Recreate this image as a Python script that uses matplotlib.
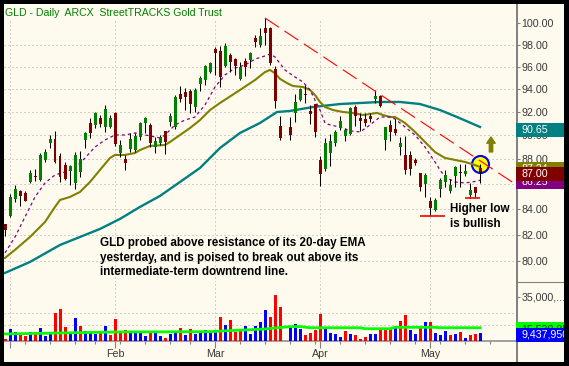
import numpy as np
import matplotlib
matplotlib.use("Agg")
import matplotlib.pyplot as plt
from matplotlib.patches import Rectangle
from matplotlib.lines import Line2D
from matplotlib.transforms import IdentityTransform

plt.rcParams['font.family'] = ['Liberation Sans', 'DejaVu Sans']

nan = float('nan')

# --- Daily bars: one slot per session, slot -1 = Dec 31 2007 ... slot 94 = May 15 2008
# slot 55 (Good Friday) is kept as an empty slot, like on the original chart
FIRST_SLOT = -1
opens = [82.80, 83.42, 84.83, 85.47, 85.30, 86.19, 86.62, 86.35, 87.98, 89.39,
         89.72, 88.31, 87.57, 87.08, 86.11, 87.00, 89.64, 91.07, 90.90, 91.49,
         90.73, 90.73, 91.92, 88.55, 88.06, 88.90, 88.80, 89.89, 91.07, 90.90,
         89.05, 89.39, 90.39, 91.15, 90.73, 93.57, 93.75, 93.83, 92.44, 94.45,
         94.80, 95.51, 97.59, 97.41, 96.05, 97.05, 96.68, 94.89, 96.50, 96.59,
         98.61, 97.96, 99.53, 99.53, 95.78, 90.81, nan, 90.73, 91.92, 93.04,
         93.50, 92.10, 92.70, 87.98, 87.24, 88.55, 89.39, 90.64, 89.97, 90.14,
         92.44, 91.49, 91.40, 91.66, 93.13, 93.40, 89.64, 90.90, 90.56, 89.05,
         88.39, 88.39, 87.98, 86.91, 86.03, 84.60, 83.89, 85.63, 86.19, 85.40,
         86.67, 86.90, 86.83, 85.15, 85.78, 87.32]
highs = [82.85, 85.20, 85.94, 85.55, 85.40, 87.16, 87.20, 88.55, 88.90, 90.06,
         90.39, 88.55, 87.81, 87.57, 88.64, 88.72, 90.31, 91.49, 92.00, 91.75,
         92.60, 91.75, 92.00, 89.64, 88.39, 90.22, 90.22, 91.15, 91.58, 91.07,
         89.89, 90.06, 90.39, 91.92, 93.48, 94.27, 94.10, 94.01, 94.10, 95.16,
         96.14, 96.41, 97.78, 97.87, 98.15, 97.23, 96.77, 96.41, 96.77, 97.32,
         98.90, 99.53, 100.47, 99.60, 96.05, 91.66, nan, 91.58, 93.60, 94.10,
         94.36, 92.60, 92.70, 88.31, 89.80, 90.14, 90.48, 91.66, 90.64, 92.44,
         92.60, 91.92, 91.92, 91.92, 93.92, 93.48, 90.73, 91.30, 91.40, 89.89,
         89.97, 88.72, 88.14, 86.91, 86.91, 84.99, 84.90, 86.51, 87.16, 86.43,
         87.49, 87.65, 87.65, 86.11, 85.78, 87.65]
lows = [81.88, 83.40, 84.52, 84.28, 84.60, 86.11, 86.20, 86.27, 87.80, 88.97,
        87.73, 86.19, 86.35, 85.94, 85.63, 86.59, 88.97, 89.80, 90.64, 90.73,
        90.31, 90.64, 89.10, 88.22, 87.16, 88.64, 88.64, 89.64, 90.22, 89.05,
        88.55, 89.22, 88.47, 90.81, 90.56, 92.87, 92.18, 91.92, 92.00, 93.83,
        94.36, 95.42, 95.25, 94.18, 95.96, 95.51, 95.25, 94.80, 95.16, 95.87,
        97.78, 97.78, 97.96, 96.14, 92.35, 89.64, nan, 89.64, 91.15, 92.96,
        92.80, 90.98, 89.89, 85.86, 87.08, 87.49, 89.14, 90.48, 89.55, 90.06,
        90.81, 90.39, 90.81, 91.15, 92.80, 92.44, 88.80, 89.50, 90.06, 88.39,
        86.83, 86.75, 87.57, 85.40, 84.99, 83.42, 83.81, 84.99, 85.78, 85.24,
        85.78, 85.78, 86.67, 84.91, 84.99, 86.11]
closes = [82.40, 84.99, 85.63, 85.07, 84.67, 86.91, 86.55, 88.39, 88.64, 89.72,
          87.81, 86.59, 86.43, 87.49, 88.39, 88.06, 90.22, 90.22, 91.92, 90.98,
          92.26, 91.49, 89.30, 89.22, 87.73, 89.70, 89.97, 91.07, 91.49, 89.39,
          89.55, 89.89, 89.47, 91.66, 93.31, 93.13, 93.31, 92.70, 93.92, 94.98,
          96.05, 96.32, 97.23, 95.07, 97.87, 96.41, 96.05, 95.96, 95.96, 97.23,
          98.24, 98.79, 99.07, 96.32, 92.96, 89.80, nan, 90.06, 92.87, 94.01,
          93.45, 91.83, 90.31, 86.83, 89.39, 89.55, 90.31, 91.24, 90.48, 92.35,
          91.66, 91.24, 91.07, 91.40, 93.40, 92.53, 90.73, 90.25, 90.22, 89.39,
          87.16, 87.24, 87.73, 85.78, 86.75, 84.05, 84.75, 86.35, 86.75, 85.94,
          87.41, 86.85, 87.08, 85.55, 85.24, 87.00]

# volume in millions of shares, 1 = blue (up) bar, 0 = red (down) bar
volumes = [5.2, 12.3, 10.2, 8.8, 7.3, 10.2, 10.2, 13.0, 7.3, 10.2,
           23.7, 26.5, 13.7, 9.5, 20.1, 14.4, 10.9, 10.2, 8.8, 9.5,
           14.4, 8.1, 19.4, 10.9, 11.6, 9.5, 9.5, 9.5, 7.3, 10.9,
           10.2, 7.3, 5.9, 8.8, 10.9, 13.0, 8.1, 12.3, 8.8, 10.2,
           11.6, 9.5, 11.6, 20.8, 15.1, 18.7, 10.2, 10.9, 14.4, 8.8,
           14.4, 17.3, 25.8, 20.8, 36.4, 27.9, nan, 14.4, 15.9, 12.3,
           8.1, 9.5, 11.6, 23.0, 13.7, 9.5, 8.8, 6.6, 10.9, 8.8,
           8.1, 5.2, 6.6, 8.8, 8.8, 11.6, 12.3, 12.3, 14.4, 18.0,
           22.2, 11.6, 8.8, 14.4, 17.3, 17.3, 9.5, 8.1, 10.9, 8.1,
           8.8, 10.2, 5.9, 8.1, 8.8, 9.44]
volume_up = [0, 1, 1, 0, 0, 1, 0, 1, 1, 1,
             0, 0, 0, 1, 1, 0, 1, 1, 1, 0,
             1, 0, 0, 0, 0, 1, 1, 1, 1, 0,
             1, 1, 0, 1, 1, 0, 1, 0, 1, 1,
             1, 1, 1, 0, 1, 0, 0, 0, 1, 1,
             1, 1, 1, 0, 0, 0, 0, 1, 1, 1,
             0, 0, 0, 0, 1, 1, 1, 1, 0, 1,
             0, 0, 0, 1, 1, 0, 0, 0, 1, 0,
             0, 1, 1, 0, 1, 0, 1, 1, 1, 0,
             1, 0, 1, 0, 0, 1]

# --- Indicator lines (slot, value)
ema20_slots = [-1, 1, 4, 7, 9, 10, 12, 14, 16, 18, 20, 21, 23, 25, 26, 28, 31, 32,
               34, 36, 38, 40, 42, 46, 49, 51, 52, 53, 54, 55.4, 56.6, 58.6, 60,
               61, 62, 63, 64.6, 66.6, 68.6, 70.6, 72, 73.4, 74.6, 76, 77, 79, 81,
               83, 85, 87, 89, 91, 93, 94]
ema20_vals = [80.24, 80.85, 81.83, 82.99, 84.17, 84.72, 84.96, 85.36, 86.16, 87.14,
              88.12, 88.37, 88.37, 88.53, 88.78, 89.12, 89.20, 89.45, 90.04, 90.63,
              91.31, 92.17, 92.78, 93.92, 94.80, 95.51, 95.70, 95.40, 94.90, 94.53,
              94.27, 94.18, 93.92, 93.48, 92.87, 92.43, 92.17, 92.00, 91.92, 91.74,
              91.83, 91.92, 91.74, 91.57, 91.57, 91.06, 90.30, 89.45, 88.61, 88.12,
              87.96, 87.79, 87.54, 87.38]
sma50_slots = [-1, 4, 10, 18, 22, 26, 30, 34, 38, 42, 46, 50, 53.4, 56, 60.6, 66,
               74, 78, 82, 86, 89.4, 94]
sma50_vals = [79.12, 79.94, 81.22, 82.45, 83.23, 84.17, 85.04, 86.16, 87.30, 88.95,
              90.21, 91.06, 92.00, 92.09, 92.43, 92.69, 92.87, 92.87, 92.69, 92.17,
              91.57, 90.72]
ma10_slots = [-1, 1, 3, 5, 7, 9, 11, 13, 15, 17, 19, 21, 23, 25, 28, 30, 31, 33, 35,
              37, 39, 41, 43, 45, 47, 49, 51, 52, 53, 55, 57, 58.6, 60, 61, 62, 63,
              64, 66, 68, 70, 72, 74, 76, 77, 79, 81, 83, 85, 86, 87, 89, 91, 93, 94]
ma10_vals = [80.62, 81.83, 83.38, 84.96, 86.08, 86.73, 86.97, 87.30, 88.12, 89.03,
             89.62, 90.04, 90.04, 90.21, 89.96, 89.79, 90.04, 90.89, 91.31, 91.57,
             92.61, 94.18, 95.25, 95.87, 96.14, 96.68, 96.96, 97.14, 96.87, 95.69,
             95.07, 94.62, 93.92, 93.04, 92.17, 91.06, 90.89, 90.72, 90.38, 90.30,
             90.89, 91.57, 91.57, 91.40, 90.72, 90.04, 89.03, 87.79, 87.14, 86.57,
             86.16, 86.08, 86.20, 86.30]
vol_ma_slots = [-1, 6, 10, 22, 40, 43, 47, 51, 53, 56, 58, 60, 70, 71, 76, 77, 85, 86, 94]
vol_ma_vals = [8.8, 9.2, 9.5, 10.2, 10.4, 11.0, 11.6, 12.3, 13.0, 14.0, 14.0, 13.2,
               13.2, 12.5, 12.5, 13.5, 13.5, 13.2, 13.2]

# downtrend line from the March high
trend_slots = [51, 100.6]
trend_vals = [100.47, 86.11]

# "higher low" markers
low_levels = [83.42, 84.85]
low_from = [82, 91]
low_to = [87, 94]

circle_slot, circle_val = 94, 87.6
arrow_slot, arrow_from, arrow_to = 96.2, 88.62, 89.87

# right-hand value boxes
last_sma50, last_ema20, last_close, last_ma10 = 90.65, 87.24, 87.00, 86.25
last_volume, last_vol_ma = 9.44, 13.2
last_volume_text, last_vol_ma_text = '9,437,950', '15,538,850'

price_ticks = [80, 82, 84, 86, 88, 90, 92, 94, 96, 98, 100]
price_grid = [80, 82, 84, 86, 88, 90, 92, 94, 96, 98]
month_slots = [0, 21, 41, 62, 84]
month_labels = ['', 'Feb', 'Mar', 'Apr', 'May']
week_slots = [3, 8, 13, 17, 22, 27, 32, 36, 46, 51, 56, 61, 66, 71, 76, 81, 86, 91, 96]
vol_ticks = [35]
vol_tick_labels = ['35,000,...']
vol_grid = [15.1, 23.7]

title = 'GLD - Daily  ARCX  StreetTRACKS Gold Trust'
note = ('GLD probed above resistance of its 20-day EMA\n'
        'yesterday, and is poised to break out above its\n'
        'intermediate-term downtrend line.')
note2 = 'Higher low\nis bullish'

# --- Styling
CREAM = '#FFFAEE'
GREEN = '#008000'
DKRED = '#800000'
OLIVE = '#808000'
TEAL = '#008080'
PURPLE = '#800080'
GRID = '#A8A8A8'
AXIS = '#808080'
LABEL = '#383838'
W, H = 569, 366

fig = plt.figure(figsize=(W / 100, H / 100), dpi=100)
fig.patch.set_facecolor('black')
fig.add_artist(Rectangle((4, 4), 560, 358, transform=IdentityTransform(),
                         facecolor=CREAM, edgecolor='none', zorder=-10))

ax = fig.add_axes([4 / W, (H - 282) / H, 513 / W, 278 / H])
axv = fig.add_axes([4 / W, (H - 341) / H, 513 / W, 59 / H])
for a in (ax, axv):
    a.set_facecolor('none')
    for s in a.spines.values():
        s.set_visible(False)
    a.set_xlim(-1.2, 101.4)

slots = np.arange(len(opens)) + FIRST_SLOT
o, hi, lo, c = (np.array(v, float) for v in (opens, highs, lows, closes))
ok = ~np.isnan(o)

# --- Price panel
ax.set_yscale('log')
ax.set_ylim(78.45, 101.8)
ax.set_yticks(price_ticks, labels=[f'{t:.2f}' for t in price_ticks])
ax.yaxis.set_minor_locator(matplotlib.ticker.NullLocator())
ax.yaxis.tick_right()
ax.tick_params(axis='y', direction='out', length=2.4, width=0.8, color=AXIS,
               labelcolor=LABEL, labelsize=7.7, pad=0.6)
ax.tick_params(axis='x', which='both', bottom=False, labelbottom=False)

for g in price_grid:
    ax.axhline(g, color=GRID, lw=0.72, dashes=(1, 3), zorder=1)
for m in month_slots:
    ax.axvline(m, ymax=0.942, color=GRID, lw=0.72, dashes=(1, 3), zorder=1)

ax.scatter([circle_slot], [circle_val], s=150, marker='o', facecolor='#FFFF00',
           edgecolor='#0000FF', linewidths=1.5, zorder=2)

ax.plot(sma50_slots, sma50_vals, color=TEAL, lw=1.7, zorder=3)
ax.plot(ema20_slots, ema20_vals, color=OLIVE, lw=1.5, zorder=3)
ax.plot(ma10_slots, ma10_vals, color=PURPLE, lw=0.9, dashes=(2.4, 2.4), zorder=3)

body_lo = np.minimum(o, c)
body_hi = np.maximum(np.maximum(o, c), body_lo * 1.0012)
colors = np.where(c >= o, GREEN, DKRED)
ax.vlines(slots[ok], lo[ok], hi[ok], color='black', lw=0.75, zorder=4)
ax.bar(slots[ok], (body_hi - body_lo)[ok], bottom=body_lo[ok], width=0.6,
       color=colors[ok], linewidth=0, zorder=5)

ax.plot(trend_slots, trend_vals, color='#FF0000', lw=0.8, dashes=(15, 6), zorder=6)
ax.hlines(low_levels, low_from, low_to, color='#FF0000', lw=1.2, zorder=6)
ax.annotate('', xy=(arrow_slot, arrow_to), xytext=(arrow_slot, arrow_from),
            arrowprops=dict(arrowstyle='simple,head_length=0.45,head_width=0.6,tail_width=0.24',
                            color=OLIVE, mutation_scale=10, shrinkA=0, shrinkB=0),
            zorder=6)

ax.text(0.002, 0.9874, title, transform=ax.transAxes, color=GREEN, fontsize=7.6,
        va='top', ha='left', zorder=7)
ax.text(18, 81.80, note, fontsize=8.4, fontweight='bold', color='black',
        va='top', ha='left', linespacing=1.25, zorder=7)
ax.text(88, 84.48, note2, fontsize=8.4, fontweight='bold', color='black',
        va='top', ha='left', linespacing=1.3, zorder=7)

# --- Volume panel
vols = np.array(volumes, float)
vok = ~np.isnan(vols)
vcol = np.where(np.array(volume_up) == 1, '#0000FF', '#FF0000')
axv.set_ylim(3.8, 45.6)
for g in vol_grid:
    axv.axhline(g, color=GRID, lw=0.72, dashes=(1, 3), zorder=1)
for m in month_slots:
    axv.axvline(m, color=GRID, lw=0.72, dashes=(1, 3), zorder=1)
axv.bar(slots[vok], vols[vok], width=0.6, color=vcol[vok], linewidth=0, zorder=3)
axv.plot(vol_ma_slots, vol_ma_vals, color='#00FF00', lw=2.0, zorder=4)

axv.set_yticks(vol_ticks, labels=vol_tick_labels)
axv.yaxis.tick_right()
axv.tick_params(axis='y', direction='out', length=2.4, width=0.8, color=AXIS,
                labelcolor=LABEL, labelsize=7.7, pad=0.6)
axv.spines['bottom'].set_visible(True)
axv.spines['bottom'].set_color('#909090')
axv.spines['bottom'].set_linewidth(1.2)
axv.set_xticks(month_slots, labels=month_labels)
axv.set_xticks(week_slots, minor=True)
axv.tick_params(axis='x', which='major', length=5, width=0.8, color=AXIS,
                labelcolor=LABEL, labelsize=7.7, pad=0.5)
axv.tick_params(axis='x', which='minor', length=2.2, width=0.8, color=AXIS)

# right axis line and panel separator
fig.add_artist(Line2D([517, 517], [4, H - 4], transform=IdentityTransform(),
                      color=AXIS, lw=1.4, zorder=8))
fig.add_artist(Line2D([517, 564], [H - 282, H - 282], transform=IdentityTransform(),
                      color=AXIS, lw=0.8, zorder=8))


def value_box(axis, value, text, face, shift_px, z, fg='white'):
    y = axis.transData.transform((0, value))[1] - shift_px
    fig.add_artist(Rectangle((516, y - 7), 48, 14, transform=IdentityTransform(),
                             facecolor=face, edgecolor='none', zorder=z))
    fig.text(521, y, text, transform=IdentityTransform(), color=fg, fontsize=7.7,
             va='center', ha='left', zorder=z + 0.5)


value_box(ax, last_sma50, f'{last_sma50:.2f}', TEAL, 2, 10)
value_box(ax, last_ema20, f'{last_ema20:.2f}', OLIVE, 0, 11)
value_box(ax, last_ma10, f'{last_ma10:.2f}', PURPLE, 1.5, 12)
value_box(ax, last_close, f'{last_close:.2f}', DKRED, 2.4, 13)
value_box(axv, last_vol_ma, last_vol_ma_text, '#00FF00', 1.7, 14, fg='#004000')
value_box(axv, last_volume, last_volume_text, '#0000FF', 1.5, 15)

# black frame around the chart
for x0, y0, w, h in [(0, 0, W, 4), (0, H - 4, W, 4), (0, 0, 4, H), (564, 0, W - 564, H)]:
    fig.add_artist(Rectangle((x0, y0), w, h, transform=IdentityTransform(),
                             facecolor='black', edgecolor='none', zorder=50))

fig.savefig('out.png', dpi=100, facecolor='black')
